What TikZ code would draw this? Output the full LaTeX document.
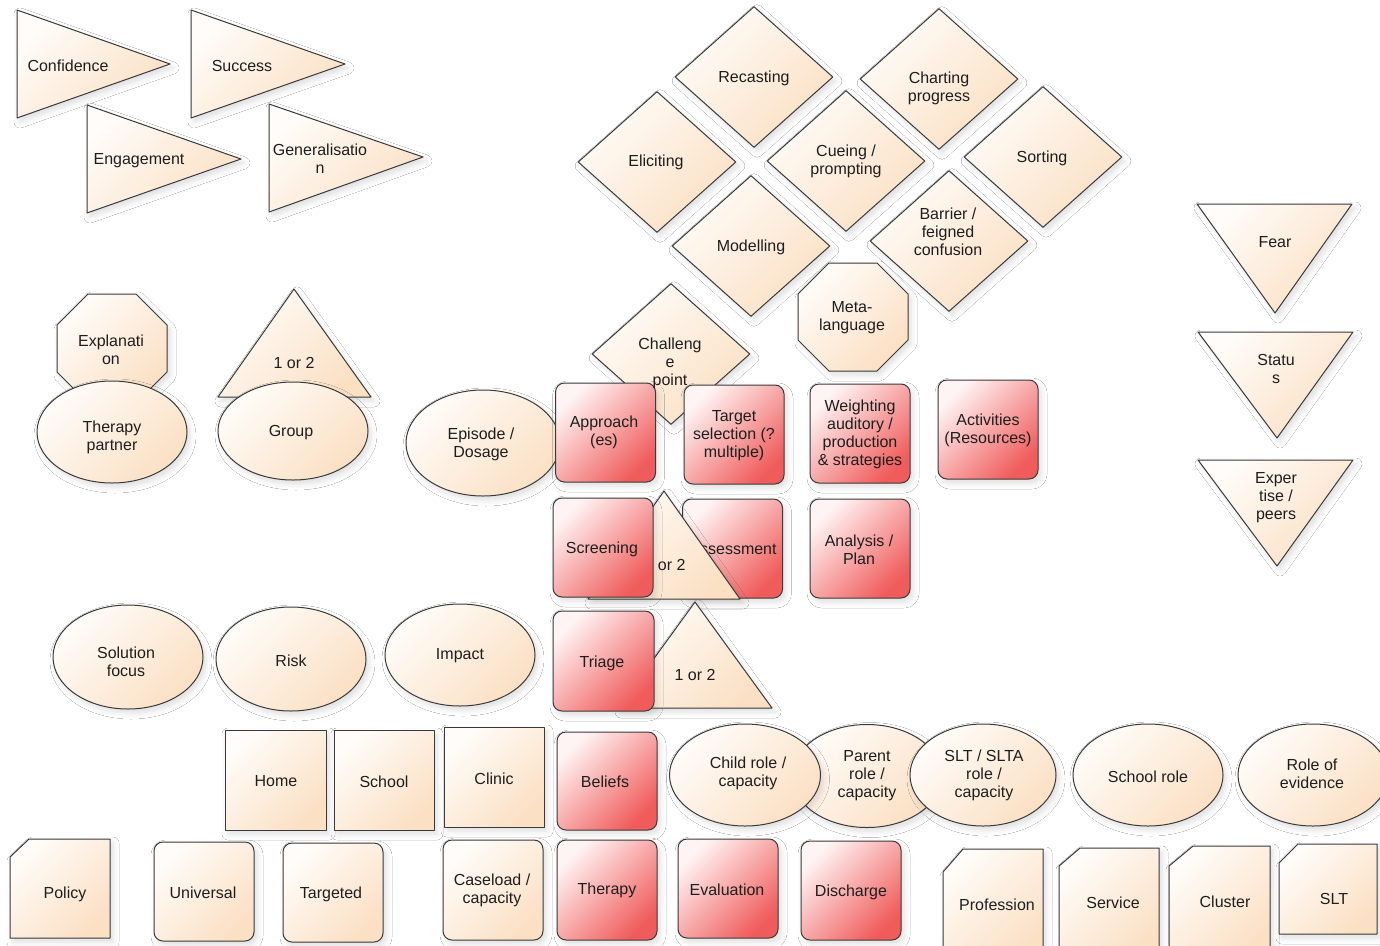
\documentclass[tikz,border=0pt]{standalone}
\usepackage{fontspec}
\setmainfont{Liberation Sans}
\usetikzlibrary{shapes.geometric,shadows.blur}
\definecolor{edge}{HTML}{3A3A3A}
\definecolor{ink}{HTML}{1E1E1E}
\definecolor{peachA}{HTML}{FFFCF9}
\definecolor{peachB}{HTML}{FBE0C4}
\definecolor{roseA}{HTML}{FFF4F4}
\definecolor{roseB}{HTML}{F05C5C}

\begin{document}
\begin{tikzpicture}[x=1pt,y=-1pt,
  shadowed/.style={draw=edge, line width=1pt, line join=round,
    blur shadow={shadow xshift=3pt, shadow yshift=-4pt, shadow blur radius=6pt, shadow opacity=13}},
  peach/.style={shadowed, top color=peachA, bottom color=peachB, shading angle=45},
  rose/.style={shadowed, top color=roseA, bottom color=roseB, shading angle=45},
  card/.style={rectangle, rounded corners=9pt, inner sep=0pt, minimum width=100pt, minimum height=99pt},
  tile/.style={rectangle, inner sep=0pt, minimum width=100pt, minimum height=100pt},
  oval/.style={ellipse, inner sep=0pt, minimum width=150pt, minimum height=102pt},
  rhomb/.style={diamond, inner sep=0pt, minimum width=158pt, minimum height=141pt},
  lbl/.style={font=\fontsize{16}{18}\selectfont, text=ink, align=center, inner sep=0pt, yshift=-1.5pt},
]
\fill[white] (0,0) rectangle (1380,945);
\useasboundingbox (0,0) rectangle (1380,945);

% --- outcome arrows (top left)
\path[peach] (17,10) -- (170,64) -- (17,118) -- cycle;
\node[lbl] (conf) at (68,64) {Confidence};
\path[peach] (191,10) -- (345,64) -- (191,118) -- cycle;
\node[lbl] (succ) at (242,64) {Success};
\path[peach] (87,105) -- (241,159) -- (87,213) -- cycle;
\node[lbl] (engage) at (139,159) {Engagement};
\path[peach] (269,104) -- (423,157) -- (269,212) -- cycle;
\node[lbl] (general) at (320,157) {Generalisatio\\n};

% --- techniques (diamonds)
\node[rhomb, peach] (recast) at (754,77) {};
\node[lbl] (recast-t) at (754,77) {Recasting};
\node[rhomb, peach] (chart) at (939,79) {};
\node[lbl] (chart-t) at (939,87) {Charting\\progress};
\node[rhomb, peach] (elicit) at (657,162) {};
\node[lbl] (elicit-t) at (656,161) {Eliciting};
\node[rhomb, peach] (cue) at (846,161) {};
\node[lbl] (cue-t) at (846,160) {Cueing /\\prompting};
\node[rhomb, peach] (sort) at (1043,157) {};
\node[lbl] (sort-t) at (1042,157) {Sorting};
\node[rhomb, peach] (model) at (751,246) {};
\node[lbl] (model-t) at (751,246) {Modelling};
\node[rhomb, peach] (barrier) at (949,241) {};
\node[lbl] (barrier-t) at (948,230) {Barrier /\\feigned\\confusion};

% --- pressures (inverted triangles, right)
\path[peach] (1197,204) -- (1352,204) -- (1275,313) -- cycle;
\node[lbl] (fear) at (1275,241) {Fear};
\path[peach] (1198,332) -- (1353,332) -- (1277,438) -- cycle;
\node[lbl] (status) at (1276,367) {Statu\\s};
\path[peach] (1198,460) -- (1353,460) -- (1277,566) -- cycle;
\node[lbl] (expert) at (1276,496) {Exper\\tise /\\peers};

% --- delivery (left)
\path[peach] (88,294) -- (136,294) -- (167,325) -- (167,372) -- (136,403) -- (88,403) -- (57,372) -- (57,325) -- cycle;
\node[lbl] (explain) at (111,348) {Explanati\\on};
\node[oval, peach] (partner) at (112,432) {};
\node[lbl] (partner-t) at (112,436) {Therapy\\partner};

\path[peach] (294,289) -- (371,397) -- (218,397) -- cycle;
\node[lbl] (grp-size) at (294,361) {1 or 2};
\node[oval, peach, minimum height=98pt] (group) at (293,431) {};
\node[lbl] (group-t) at (291,431) {Group};

% --- meta-language
\path[peach] (829,263) -- (877,263) -- (908,294) -- (908,340) -- (877,371) -- (829,371) -- (798,340) -- (798,294) -- cycle;
\node[lbl] (meta) at (852,316) {Meta-\\language};

% --- challenge point, episode and approach
\node[rhomb, peach] (challenge) at (671,354) {};
\node[oval, peach, minimum width=154pt, minimum height=106pt] (episode) at (483,443) {};
\node[lbl] (episode-t) at (481,443) {Episode /\\Dosage};
\node[card, rose] (approach) at (605.5,432.5) {};
\node[lbl] (approach-t) at (604,431) {Approach\\(es)};
\node[lbl] (challenge-t) at (670,362) {Challeng\\e\\point};

\node[card, rose] (target) at (734,434.5) {};
\node[lbl] (target-t) at (734,434) {Target\\selection (?\\multiple)};
\node[card, rose] (weight) at (860,433.5) {};
\node[lbl] (weight-t) at (860,433) {Weighting\\auditory /\\production\\\& strategies};
\node[card, rose] (activity) at (988,429.5) {};
\node[lbl] (activity-t) at (988,429) {Activities\\(Resources)};

% --- screening / assessment row
\node[card, rose] (assess) at (732.5,548.5) {};
\node[lbl] (assess-t) at (733,548) {Assessment};
\path[peach] (664,491) -- (740,599) -- (588,599) -- cycle;
\node[lbl] (scr-size) at (665,563) {1 or 2};
\node[card, rose] (screen) at (603,547.5) {};
\node[lbl] (screen-t) at (602,548) {Screening};
\node[card, rose] (analysis) at (860,548.5) {};
\node[lbl] (analysis-t) at (859,548) {Analysis /\\Plan};

% --- triage
\path[peach] (695,602) -- (772,708) -- (618,708) -- cycle;
\node[lbl] (tri-size) at (695,673) {1 or 2};
\node[card, rose, minimum width=101pt, minimum height=100pt] (triage) at (603.5,661) {};
\node[lbl] (triage-t) at (602,662) {Triage};

% --- framing ovals
\node[oval, peach, minimum height=104pt] (solution) at (128,657) {};
\node[lbl] (solution-t) at (126,660) {Solution\\focus};
\node[oval, peach, minimum height=104pt] (risk) at (291,659) {};
\node[lbl] (risk-t) at (291,659) {Risk};
\node[oval, peach] (impact) at (460,655) {};
\node[lbl] (impact-t) at (460,654) {Impact};

% --- settings
\node[tile, peach, minimum width=101pt] (home) at (275.5,780) {};
\node[lbl] (home-t) at (276,780) {Home};
\node[tile, peach] (school) at (384,780) {};
\node[lbl] (school-t) at (384,780) {School};
\node[tile, peach] (clinic) at (494,777) {};
\node[lbl] (clinic-t) at (494,777) {Clinic};
\node[card, rose, minimum height=98pt] (beliefs) at (607,781) {};
\node[lbl] (beliefs-t) at (605,780) {Beliefs};

% --- roles
\node[oval, peach, minimum height=103pt] (parent) at (867,776) {};
\node[oval, peach, minimum width=151pt] (child) at (745,775) {};
\node[lbl] (child-t) at (748,772) {Child role /\\capacity};
\node[lbl] (parent-t) at (867,774) {Parent\\role /\\capacity};
\node[oval, peach, minimum width=146pt] (slt-role) at (983,775) {};
\node[lbl] (slt-role-t) at (984,774) {SLT / SLTA\\role /\\capacity};
\node[oval, peach] (school-role) at (1148,775) {};
\node[lbl] (school-role-t) at (1148,775) {School role};
\node[oval, peach] (evidence) at (1313,775) {};
\node[lbl] (evidence-t) at (1312,772) {Role of\\evidence};

% --- bottom row
\path[peach] (29,839) -- (110,839) -- (110,938) -- (10,938) -- (10,857) -- cycle;
\node[lbl] (policy) at (65,893) {Policy};
\node[card, peach] (universal) at (204,891.5) {};
\node[lbl] (universal-t) at (203,891) {Universal};
\node[card, peach] (targeted) at (333,892.5) {};
\node[lbl] (targeted-t) at (331,893) {Targeted};
\node[card, peach, minimum height=100pt] (caseload) at (493,890) {};
\node[lbl] (caseload-t) at (492,889) {Caseload /\\capacity};
\node[card, rose, minimum height=100pt] (therapy) at (607,890) {};
\node[lbl] (therapy-t) at (607,889) {Therapy};
\node[card, rose] (evaluation) at (728,888.5) {};
\node[lbl] (evaluation-t) at (727,888) {Evaluation};
\node[card, rose] (discharge) at (851,890.5) {};
\node[lbl] (discharge-t) at (851,891) {Discharge};

\path[peach] (963,849) -- (1043,849) -- (1043,960) -- (943,960) -- (943,872) -- cycle;
\node[lbl] (profession) at (997,903) {Profession};
\path[peach] (1080,848) -- (1159,848) -- (1159,960) -- (1059,960) -- (1059,866) -- cycle;
\node[lbl] (service) at (1113,901) {Service};
\path[peach] (1193,846) -- (1270,846) -- (1270,960) -- (1169,960) -- (1169,866) -- cycle;
\node[lbl] (cluster) at (1225,900) {Cluster};
\path[peach] (1298,844) -- (1377,844) -- (1377,934) -- (1279,934) -- (1279,863) -- cycle;
\node[lbl] (slt) at (1334,897) {SLT};
\end{tikzpicture}
\end{document}
